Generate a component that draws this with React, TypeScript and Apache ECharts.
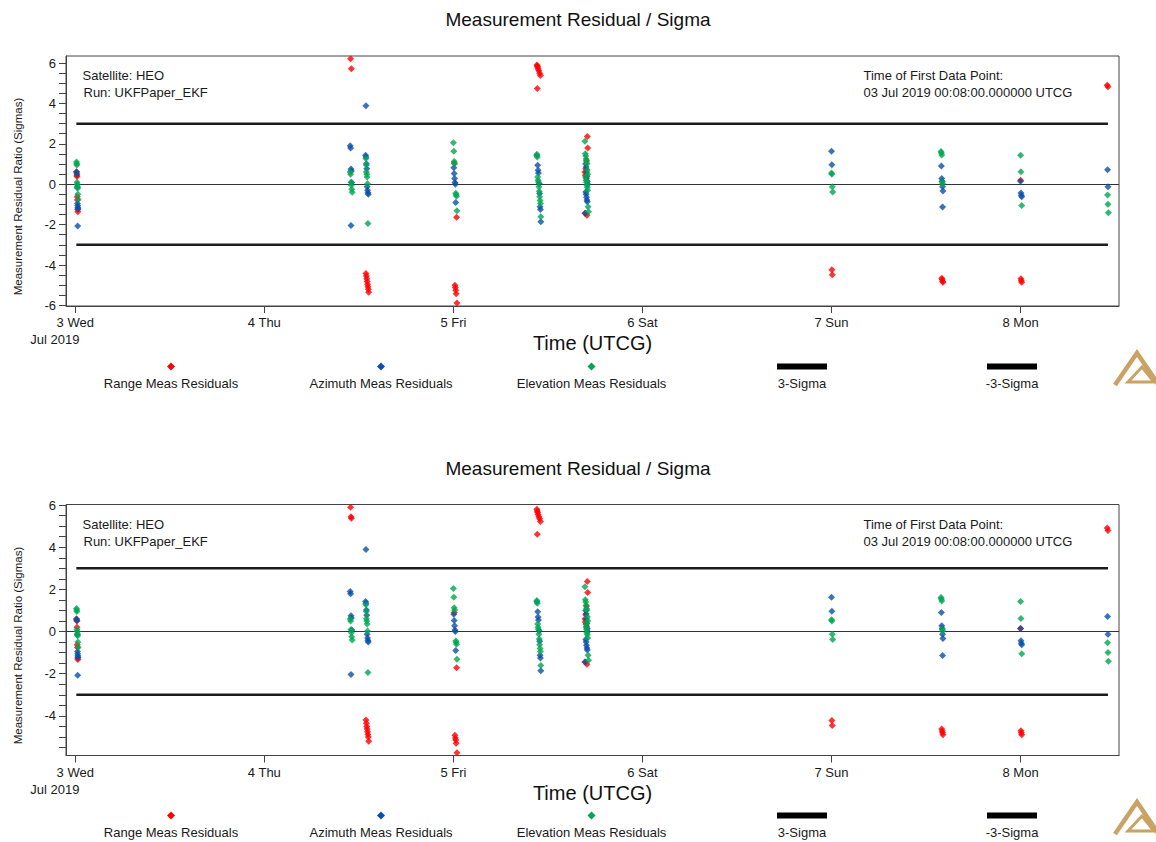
import React, { useEffect, useRef } from "react";
import * as echarts from "echarts";

// Time axis is in hours since 03 Jul 2019 00:00:00 UTCG.
const BASE_UTC = Date.UTC(2019, 6, 3);
const WEEKDAYS = ["Sun", "Mon", "Tue", "Wed", "Thu", "Fri", "Sat"];
const X_MIN = -1.18;
const X_MAX = 132.5;
const DAY_TICKS = [0, 24, 48, 72, 96, 120];

const FIRST_TIME = 0.133;
const LAST_TIME = 131.1;

const LEGEND_LABELS = [
  "Range Meas Residuals",
  "Azimuth Meas Residuals",
  "Elevation Meas Residuals",
  "3-Sigma",
  "-3-Sigma",
];

const COLORS = {
  range: "#ff0000",
  azimuth: "#0a50a8",
  elevation: "#00a651",
  sigma: "#1c1c1c",
};

// [hours, residual / sigma]
const rangeTop: [number, number][] = [
  [0.15, 0.62], [0.2, 0.45], [0.22, 0.38], [0.25, -0.62], [0.27, -0.78], [0.3, -1.25], [0.33, -1.36],
  [34.95, 6.22], [35.05, 5.72],
  [36.9, -4.42], [36.95, -4.55], [37.0, -4.68], [37.05, -4.82], [37.1, -4.95], [37.15, -5.08], [37.2, -5.2], [37.25, -5.35],
  [48.1, 1.05], [48.4, -1.64], [48.2, -5.0], [48.25, -5.12], [48.3, -5.25], [48.35, -5.42], [48.45, -5.88],
  [58.6, 5.9], [58.65, 5.86], [58.7, 5.8], [58.75, 5.72], [58.85, 5.62], [58.95, 5.5], [59.05, 5.38], [58.65, 4.74],
  [65.0, 2.36], [65.05, 1.79], [64.9, 1.18], [64.8, 0.77], [64.7, 0.6], [64.75, 0.45], [64.85, 0.36], [64.9, 0.28],
  [64.7, -1.44], [64.95, -1.53],
  [96.05, -4.24], [96.1, -4.48],
  [110.0, -4.65], [110.05, -4.72], [110.1, -4.8], [110.15, -4.86],
  [120.0, 0.2], [120.05, -4.68], [120.1, -4.78], [120.15, -4.86],
  [131.0, 4.9], [131.1, 4.83],
];

const rangeBottom: [number, number][] = [
  [0.15, 0.6], [0.2, 0.5], [0.22, 0.2], [0.25, -0.62], [0.27, -0.75], [0.3, -1.25], [0.33, -1.33],
  [34.95, 5.9], [35.0, 5.45], [35.05, 5.38],
  [36.9, -4.2], [36.95, -4.35], [37.0, -4.5], [37.05, -4.62], [37.1, -4.75], [37.15, -4.88], [37.2, -5.0], [37.25, -5.2],
  [48.1, 0.9], [48.4, -1.72], [48.2, -4.92], [48.25, -5.05], [48.3, -5.15], [48.35, -5.3], [48.45, -5.75],
  [58.6, 5.8], [58.65, 5.72], [58.7, 5.65], [58.75, 5.55], [58.85, 5.45], [58.95, 5.35], [59.05, 5.22], [58.65, 4.62],
  [65.0, 2.38], [65.05, 1.85], [64.9, 1.2], [64.8, 0.8], [64.7, 0.6], [64.75, 0.45], [64.85, 0.36], [64.9, 0.25],
  [64.7, -1.44], [64.95, -1.55],
  [96.05, -4.22], [96.1, -4.46],
  [110.0, -4.62], [110.05, -4.72], [110.1, -4.8], [110.15, -4.9],
  [120.0, 0.15], [120.05, -4.7], [120.1, -4.8], [120.15, -4.9],
  [131.0, 4.92], [131.1, 4.8],
];

const azimuth: [number, number][] = [
  [0.15, 0.6], [0.2, 0.52], [0.25, -0.15], [0.28, -0.95], [0.3, -1.05], [0.32, -1.15], [0.35, -1.22], [0.3, -2.07],
  [34.9, 1.9], [34.95, 1.8], [35.0, 0.75], [35.05, 0.65], [35.1, 0.08], [35.0, -2.04],
  [36.9, 3.89], [36.85, 1.43], [36.9, 1.35], [36.95, 1.02], [37.0, 0.77], [37.05, -0.13], [37.1, -0.3], [37.15, -0.42], [37.2, -0.5],
  [48.05, 0.82], [48.1, 0.53], [48.15, 0.28], [48.2, 0.08], [48.25, 0.0], [48.3, -0.9],
  [58.6, 1.42], [58.7, 0.94], [58.75, 0.69], [58.8, 0.55], [58.9, 0.03], [58.95, -0.46], [59.0, -1.12], [59.05, -1.25], [59.1, -1.86],
  [64.8, 1.0], [64.85, 0.85], [64.9, 0.6], [64.95, 0.4], [65.0, 0.15], [65.05, 0.0], [64.8, -0.38], [64.85, -0.5],
  [64.9, -0.65], [64.95, -0.78], [65.0, -0.87], [64.75, -1.44],
  [96.0, 1.63], [96.05, 0.97],
  [109.95, 0.9], [110.0, 0.28], [110.05, 0.15], [110.1, -0.13], [110.15, -0.33], [110.1, -1.13],
  [120.0, 0.15], [120.05, -0.43], [120.1, -0.55], [120.15, -0.62],
  [131.05, 0.72], [131.1, -0.13],
];

const elevation: [number, number][] = [
  [0.15, 1.1], [0.18, 1.02], [0.2, 0.95], [0.22, 0.1], [0.25, 0.0], [0.27, -0.1], [0.3, -0.2], [0.33, -0.5], [0.35, -0.75],
  [34.9, 0.6], [34.95, 0.5], [35.0, 0.1], [35.05, -0.05], [35.1, -0.25], [35.15, -0.4],
  [36.9, 1.27], [36.95, 0.95], [36.95, 0.61], [37.0, 0.5], [37.05, 0.36], [37.1, 0.03], [37.15, -1.94],
  [48.0, 2.05], [48.05, 1.63], [48.1, 1.13], [48.15, 1.02], [48.3, -0.45], [48.35, -0.52], [48.4, -0.6], [48.45, -1.31],
  [58.6, 1.48], [58.65, 1.35], [58.7, 0.36], [58.75, 0.2], [58.8, 0.11], [58.85, -0.13], [58.9, -0.35], [58.95, -0.62],
  [59.0, -0.8], [59.05, -0.95], [59.1, -1.61],
  [64.7, 2.13], [64.75, 1.51], [64.8, 1.4], [64.85, 1.25], [64.9, 1.1], [64.95, 1.02], [65.0, 0.7], [65.05, 0.5],
  [64.8, 0.36], [64.85, 0.2], [64.9, 0.1], [64.95, -0.05], [65.0, -0.15], [65.05, -0.3], [65.1, -1.12], [65.15, -1.36],
  [96.0, 0.56], [96.05, 0.5], [96.1, -0.13], [96.15, -0.38],
  [109.9, 1.62], [109.95, 1.55], [110.0, 1.45], [110.05, 0.11], [110.1, 0.03],
  [120.0, 1.43], [120.05, 0.62], [120.15, -1.05],
  [131.05, -0.53], [131.1, -0.99], [131.15, -1.41],
];

const Y_LABELS_TOP = [-6, -4, -2, 0, 2, 4, 6];
const Y_TICKS_TOP = [-6, -5.5, -5, -4.5, -4, -3.5, -3, -2.5, -2, -1.5, -1, -0.5, 0, 0.5, 1, 1.5, 2, 2.5, 3, 3.5, 4, 4.5, 5, 5.5, 6];
const Y_LABELS_BOTTOM = [-4, -2, 0, 2, 4, 6];
const Y_TICKS_BOTTOM = [-5.5, -5, -4.5, -4, -3.5, -3, -2.5, -2, -1.5, -1, -0.5, 0, 0.5, 1, 1.5, 2, 2.5, 3, 3.5, 4, 4.5, 5, 5.5, 6];

const FONT = "'Liberation Sans', Arial, Helvetica, sans-serif";
const TEXT_COLOR = "#1a1a1a";

type PanelSpec = {
  dy: number;
  gridTop: number;
  gridHeight: number;
  yMin: number;
  yMax: number;
  yLabels: number[];
  yTicks: number[];
  range: [number, number][];
};

const panels: PanelSpec[] = [
  { dy: 0, gridTop: 56, gridHeight: 250, yMin: -6.03, yMax: 6.35, yLabels: Y_LABELS_TOP, yTicks: Y_TICKS_TOP, range: rangeTop },
  { dy: 449, gridTop: 504.5, gridHeight: 251, yMin: -5.88, yMax: 6.03, yLabels: Y_LABELS_BOTTOM, yTicks: Y_TICKS_BOTTOM, range: rangeBottom },
];

function dayLabel(v: number): string {
  const d = new Date(BASE_UTC + v * 3600 * 1000);
  const text = `${d.getUTCDate()} ${WEEKDAYS[d.getUTCDay()]}`;
  if (v === 0) return `{a|${text}}\n{b|Jul 2019}`;
  return `{a|${text}}`;
}

function text(x: number, y: number, str: string, size: number, align = "left", extra: any = {}) {
  return {
    type: "text",
    x,
    y,
    silent: true,
    ...extra,
    style: {
      text: str,
      font: `${size}px ${FONT}`,
      fill: TEXT_COLOR,
      align,
      verticalAlign: "middle",
    },
  };
}

function diamond(cx: number, cy: number, r: number, color: string) {
  return {
    type: "polygon",
    silent: true,
    shape: { points: [[cx, cy - r], [cx + r, cy], [cx, cy + r], [cx - r, cy]] },
    style: { fill: color },
  };
}

function panelGraphics(dy: number) {
  const legendX = [171, 381, 591.5, 802, 1012];
  const markerY = 366.5 + dy;
  const labelY = 383.5 + dy;
  const logoColor = "#c9a264";
  return [
    text(17.5, 196.5 + dy, "Measurement Residual Ratio (Sigmas)", 11.5, "center", { rotation: Math.PI / 2 }),
    text(82.5, 75 + dy, "Satellite: HEO", 13),
    text(83.5, 92.5 + dy, "Run: UKFPaper_EKF", 13),
    text(863.5, 75 + dy, "Time of First Data Point:", 13),
    text(863.5, 92.5 + dy, "03 Jul 2019 00:08:00.000000 UTCG", 13),
    diamond(legendX[0], markerY, 4, COLORS.range),
    diamond(legendX[1], markerY, 4, COLORS.azimuth),
    diamond(legendX[2], markerY, 4, COLORS.elevation),
    { type: "rect", silent: true, shape: { x: legendX[3] - 25, y: markerY - 3, width: 50, height: 6 }, style: { fill: "#000" } },
    { type: "rect", silent: true, shape: { x: legendX[4] - 25, y: markerY - 3, width: 50, height: 6 }, style: { fill: "#000" } },
    ...LEGEND_LABELS.map((l, i) => text(legendX[i], labelY, l, 13, "center")),
    // company mark
    {
      type: "polyline",
      silent: true,
      shape: { points: [[1115, 385 + dy], [1137, 353 + dy], [1158, 384 + dy]] },
      style: { stroke: logoColor, lineWidth: 4.5, fill: null, lineJoin: "miter" },
    },
    {
      type: "polygon",
      silent: true,
      shape: { points: [[1128, 382 + dy], [1142, 367 + dy], [1154, 382 + dy]] },
      style: { stroke: logoColor, lineWidth: 3, fill: null },
    },
  ];
}

function buildOption() {
  const grid: any[] = [];
  const xAxis: any[] = [];
  const yAxis: any[] = [];
  const series: any[] = [];
  const title: any[] = [];
  const graphic: any[] = [];

  panels.forEach((p, i) => {
    title.push({
      text: "Measurement Residual / Sigma",
      left: "center",
      top: 5 + p.dy,
      textStyle: { fontSize: 19, fontWeight: "normal", color: "#111", fontFamily: FONT },
    });
    grid.push({
      left: 66,
      top: p.gridTop,
      width: 1053,
      height: p.gridHeight,
      show: true,
      borderColor: "#444",
      borderWidth: 1,
      containLabel: false,
    });
    xAxis.push({
      gridIndex: i,
      type: "value",
      min: X_MIN,
      max: X_MAX,
      name: "Time (UTCG)",
      nameLocation: "middle",
      nameGap: 27,
      nameMoveOverlap: false,
      nameTextStyle: { fontSize: 20, color: "#111", fontFamily: FONT },
      axisLine: { show: true, onZero: false, lineStyle: { color: "#444" } },
      axisTick: { show: true, length: 7, customValues: DAY_TICKS, lineStyle: { color: "#444" } },
      axisLabel: {
        customValues: DAY_TICKS,
        formatter: dayLabel,
        margin: 8,
        color: TEXT_COLOR,
        fontFamily: FONT,
        rich: {
          a: { fontSize: 13, lineHeight: 17, fontFamily: FONT, color: TEXT_COLOR },
          b: { fontSize: 13, lineHeight: 17, fontFamily: FONT, color: TEXT_COLOR, padding: [0, 41, 0, 0] },
        },
      },
      splitLine: { show: false },
    });
    yAxis.push({
      gridIndex: i,
      type: "value",
      min: p.yMin,
      max: p.yMax,
      axisLine: { show: true, onZero: false, lineStyle: { color: "#444" } },
      axisTick: { show: true, length: 7, customValues: p.yTicks, lineStyle: { color: "#444" } },
      axisLabel: {
        customValues: p.yLabels,
        margin: 10,
        fontSize: 13,
        color: TEXT_COLOR,
        fontFamily: FONT,
      },
      splitLine: { show: false },
    });

    series.push(
      {
        name: "3-Sigma",
        type: "line",
        xAxisIndex: i,
        yAxisIndex: i,
        data: [[FIRST_TIME, 3], [LAST_TIME, 3]],
        symbol: "none",
        lineStyle: { color: COLORS.sigma, width: 2.5 },
        silent: true,
        z: 1,
      },
      {
        name: "-3-Sigma",
        type: "line",
        xAxisIndex: i,
        yAxisIndex: i,
        data: [[FIRST_TIME, -3], [LAST_TIME, -3]],
        symbol: "none",
        lineStyle: { color: COLORS.sigma, width: 2.5 },
        silent: true,
        z: 1,
      },
      {
        name: "Range Meas Residuals",
        type: "scatter",
        xAxisIndex: i,
        yAxisIndex: i,
        data: p.range,
        symbol: "diamond",
        symbolSize: 7,
        itemStyle: { color: COLORS.range },
        z: 2,
        markLine: {
          silent: true,
          symbol: "none",
          label: { show: false },
          lineStyle: { color: "#333", width: 1.2, type: "solid" },
          data: [{ yAxis: 0 }],
          z: 1,
        },
      },
      {
        name: "Azimuth Meas Residuals",
        type: "scatter",
        xAxisIndex: i,
        yAxisIndex: i,
        data: azimuth,
        symbol: "diamond",
        symbolSize: 7,
        itemStyle: { color: COLORS.azimuth },
        z: 3,
      },
      {
        name: "Elevation Meas Residuals",
        type: "scatter",
        xAxisIndex: i,
        yAxisIndex: i,
        data: elevation,
        symbol: "diamond",
        symbolSize: 7,
        itemStyle: { color: COLORS.elevation },
        z: 4,
      }
    );

    graphic.push(...panelGraphics(p.dy));
  });

  return {
    animation: false,
    backgroundColor: "#ffffff",
    textStyle: { fontFamily: FONT },
    title,
    grid,
    xAxis,
    yAxis,
    series,
    graphic: { elements: graphic },
  };
}

export default function App() {
  const ref = useRef<HTMLDivElement>(null);

  useEffect(() => {
    if (!ref.current) return;
    const chart = echarts.init(ref.current, undefined, { renderer: "svg" });
    chart.setOption(buildOption() as any);
    return () => chart.dispose();
  }, []);

  return (
    <div
      ref={ref}
      style={{ position: "absolute", left: 0, top: 0, width: 1156, height: 842, background: "#fff" }}
    />
  );
}
